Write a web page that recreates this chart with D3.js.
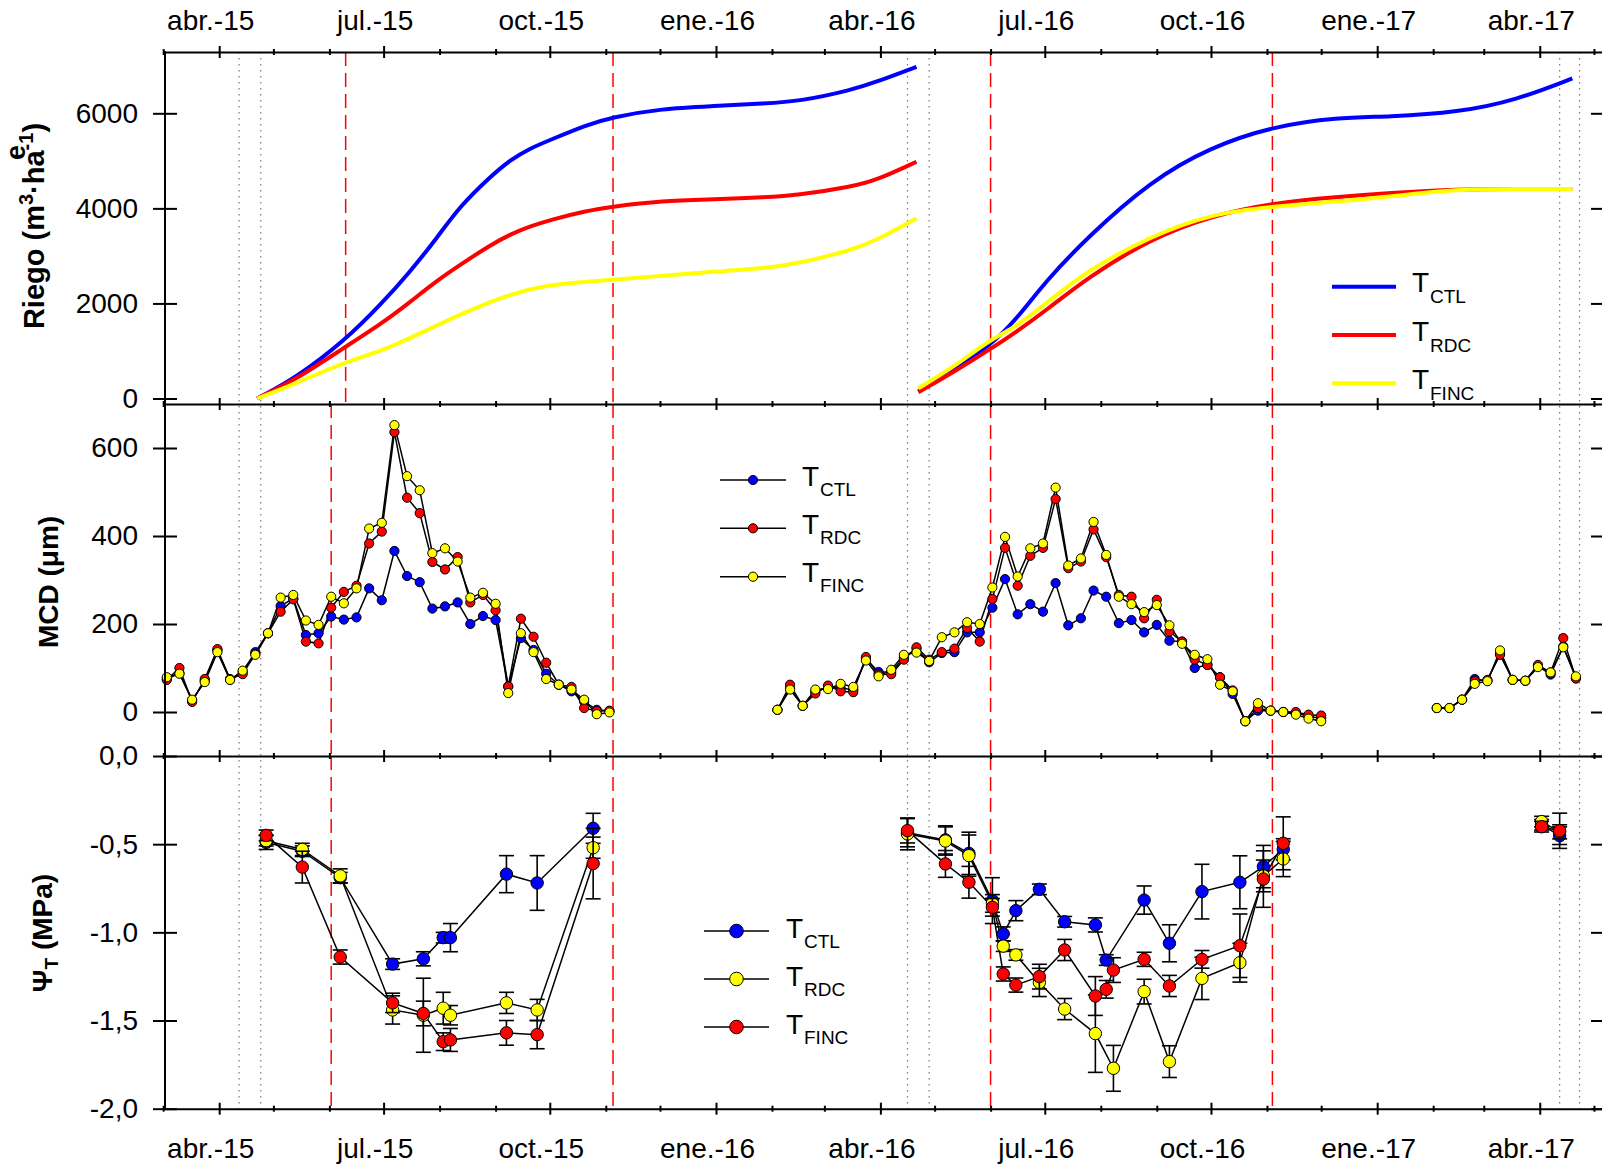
<!DOCTYPE html>
<html>
<head>
<meta charset="utf-8">
<script src="https://cdn.jsdelivr.net/npm/d3@7"></script>
<style>
  body { margin: 0; background: #fff; }
  svg text { font-family: "Liberation Sans", Arial, sans-serif; }
</style>
</head>
<body>
<div id="chart"></div>
<script>
// ---- axis ticks ----
const majorTickDates = ["2015-04-01", "2015-07-01", "2015-10-01", "2016-01-01", "2016-04-01",
    "2016-07-01", "2016-10-01", "2017-01-01", "2017-04-01"];
const majorTickLabels = ["abr.-15", "jul.-15", "oct.-15", "ene.-16", "abr.-16",
    "jul.-16", "oct.-16", "ene.-17", "abr.-17"];
const riegoTicks = [0, 2000, 4000, 6000];
const mcdTicks = [0, 200, 400, 600];
const psiTicks = [0, -0.5, -1, -1.5, -2];
const legendLabels = ["CTL", "RDC", "FINC"];

// ---- reference lines ----
const dottedDates = ["2015-04-12", "2015-04-24", "2016-04-16", "2016-04-28", "2017-04-12", "2017-04-23"];
const redDatesRiego = ["2015-06-10", "2015-11-05", "2016-06-01", "2016-11-04"];
const redDatesOther = ["2015-06-02", "2015-11-05", "2016-06-01", "2016-11-04"];

// ---- Riego (m3/ha), cumulative ----
const riegoDates15 = ["2015-04-22", "2015-05-13", "2015-06-10", "2015-06-30", "2015-07-15", "2015-07-31",
    "2015-08-12", "2015-08-29", "2015-09-09", "2015-09-20", "2015-10-01", "2015-10-21", "2015-11-04",
    "2015-12-02", "2015-12-31", "2016-01-28", "2016-02-16", "2016-03-16", "2016-03-30", "2016-04-21"];
const riegoCtl15 = [0, 420, 1230, 2000, 2636, 3400, 4033, 4665, 5016, 5262, 5436, 5752, 5913, 6100,
    6150, 6207, 6250, 6488, 6662, 6978];
const riegoRdc15 = [0, 389, 1090, 1580, 2010, 2492, 2800, 3228, 3450, 3620, 3754, 3945, 4033, 4160,
    4189, 4230, 4280, 4454, 4595, 4980];
const riegoFinc15 = [0, 310, 774, 1000, 1260, 1546, 1760, 2036, 2180, 2300, 2387, 2460, 2492, 2580,
    2667, 2738, 2843, 3120, 3330, 3790];

const riegoDates16 = ["2016-04-22", "2016-05-12", "2016-06-01", "2016-06-15", "2016-07-02", "2016-07-25",
    "2016-08-28", "2016-10-01", "2016-11-05", "2016-12-10", "2017-01-07", "2017-02-15", "2017-03-19",
    "2017-04-19"];
const riegoCtl16 = [150, 599, 1125, 1651, 2492, 3403, 4559, 5295, 5730, 5913, 5926, 6020, 6277, 6733];
const riegoRdc16 = [130, 564, 1045, 1395, 1861, 2550, 3350, 3845, 4118, 4240, 4320, 4406, 4406, 4406];
const riegoFinc16 = [214, 669, 1250, 1500, 2013, 2700, 3403, 3888, 4040, 4145, 4244, 4406, 4406, 4406];

// ---- MCD (um), weekly ----
const mcdDates15 = ["2015-03-03", "2015-03-10", "2015-03-17", "2015-03-24", "2015-03-31", "2015-04-07",
    "2015-04-14", "2015-04-21", "2015-04-28", "2015-05-05", "2015-05-12", "2015-05-19", "2015-05-26",
    "2015-06-02", "2015-06-09", "2015-06-16", "2015-06-23", "2015-06-30", "2015-07-07", "2015-07-14",
    "2015-07-21", "2015-07-28", "2015-08-04", "2015-08-11", "2015-08-18", "2015-08-25", "2015-09-01",
    "2015-09-08", "2015-09-15", "2015-09-22", "2015-09-29", "2015-10-06", "2015-10-13", "2015-10-20",
    "2015-10-27", "2015-11-03"];
const mcdCtl15 = [75, 88, 26, 71, 140, 73, 92, 136, 179, 241, 258, 175, 179, 217, 210, 215, 281, 254,
    366, 309, 295, 235, 240, 249, 200, 218, 209, 58, 168, 141, 87, 62, 47, 24, 5, 2];
const mcdRdc15 = [73, 100, 23, 75, 143, 75, 86, 132, 179, 228, 256, 160, 156, 237, 273, 287, 383, 410,
    636, 487, 452, 341, 324, 352, 249, 266, 231, 58, 212, 171, 112, 62, 57, 9, 2, 3];
const mcdFinc15 = [79, 87, 28, 68, 136, 73, 94, 130, 179, 260, 266, 208, 198, 262, 247, 281, 417, 430,
    652, 536, 504, 361, 372, 342, 260, 271, 246, 43, 179, 136, 75, 62, 51, 28, -5, -1];

const mcdDates16 = ["2016-02-04", "2016-02-11", "2016-02-18", "2016-02-25", "2016-03-03", "2016-03-10",
    "2016-03-17", "2016-03-24", "2016-03-31", "2016-04-07", "2016-04-14", "2016-04-21", "2016-04-28",
    "2016-05-05", "2016-05-12", "2016-05-19", "2016-05-26", "2016-06-02", "2016-06-09", "2016-06-16",
    "2016-06-23", "2016-06-30", "2016-07-07", "2016-07-14", "2016-07-21", "2016-07-28", "2016-08-04",
    "2016-08-11", "2016-08-18", "2016-08-25", "2016-09-01", "2016-09-08", "2016-09-15", "2016-09-22",
    "2016-09-29", "2016-10-06", "2016-10-13", "2016-10-20", "2016-10-27", "2016-11-03", "2016-11-10",
    "2016-11-17", "2016-11-24", "2016-12-01"];
const mcdCtl16 = [5, 54, 14, 47, 57, 54, 51, 121, 91, 91, 124, 143, 113, 134, 136, 181, 181, 237, 302,
    222, 245, 228, 293, 197, 213, 276, 262, 202, 209, 181, 198, 162, 160, 100, 107, 79, 41, -21, 3, 3,
    0, -2, -10, -14];
const mcdRdc16 = [5, 62, 14, 42, 60, 47, 45, 125, 85, 86, 119, 147, 119, 136, 144, 191, 160, 257, 373,
    287, 355, 373, 484, 327, 342, 415, 352, 266, 262, 213, 255, 183, 160, 119, 107, 79, 49, -21, 9, 3,
    0, 0, -6, -8];
const mcdFinc16 = [5, 51, 14, 51, 52, 64, 57, 117, 81, 96, 130, 135, 116, 170, 181, 204, 200, 283, 398,
    308, 372, 383, 510, 333, 349, 432, 357, 262, 245, 227, 243, 197, 155, 130, 120, 62, 47, -21, 20, 3,
    0, -6, -15, -21];

const mcdDates17 = ["2017-02-03", "2017-02-10", "2017-02-17", "2017-02-24", "2017-03-03", "2017-03-10",
    "2017-03-17", "2017-03-24", "2017-03-31", "2017-04-07", "2017-04-14", "2017-04-21"];
const mcdCtl17 = [9, 9, 28, 75, 71, 134, 73, 71, 105, 85, 149, 77];
const mcdRdc17 = [9, 9, 28, 70, 73, 130, 73, 71, 107, 90, 168, 76];
const mcdFinc17 = [9, 9, 28, 64, 70, 140, 73, 71, 102, 90, 147, 81];

// ---- Psi T (MPa) with error ----
const psiDates15 = ["2015-04-27", "2015-05-17", "2015-06-07", "2015-07-06", "2015-07-23", "2015-08-03",
    "2015-08-07", "2015-09-07", "2015-09-24", "2015-10-25"];
const psiCtl15 = [-0.49, -0.54, -0.69, -1.18, -1.15, -1.03, -1.03, -0.67, -0.72, -0.41];
const psiCtl15Err = [0.04, 0.03, 0.03, 0.03, 0.04, 0.03, 0.08, 0.105, 0.155, 0.085];
const psiRdc15 = [-0.48, -0.53, -0.68, -1.44, -1.47, -1.43, -1.47, -1.40, -1.44, -0.52];
const psiRdc15Err = [0.03, 0.035, 0.04, 0.08, 0.21, 0.09, 0.055, 0.06, 0.06, 0.06];
const psiFinc15 = [-0.45, -0.63, -1.14, -1.40, -1.46, -1.62, -1.61, -1.57, -1.58, -0.61];
const psiFinc15Err = [0.03, 0.09, 0.04, 0.055, 0.07, 0.05, 0.065, 0.07, 0.08, 0.2];

const psiDates16 = ["2016-04-16", "2016-05-07", "2016-05-20", "2016-06-02", "2016-06-08", "2016-06-15",
    "2016-06-28", "2016-07-12", "2016-07-29", "2016-08-04", "2016-08-08", "2016-08-25", "2016-09-08",
    "2016-09-26", "2016-10-17", "2016-10-30", "2016-11-10"];
const psiCtl16 = [-0.435, -0.476, -0.552, -0.820, -1.009, -0.877, -0.756, -0.940, -0.958, -1.157, null,
    -0.817, -1.062, -0.769, -0.716, -0.627, -0.529];
const psiCtl16Err = [0.08, 0.08, 0.12, 0.13, 0.04, 0.057, 0.03, 0.03, 0.04, 0.03, null,
    0.08, 0.105, 0.155, 0.15, 0.12, 0.06];
const psiRdc16 = [-0.442, -0.482, -0.565, -0.836, -1.078, -1.128, -1.284, -1.435, -1.574, null, -1.771,
    -1.336, -1.733, -1.261, -1.172, -0.680, -0.584];
const psiRdc16Err = [0.09, 0.08, 0.117, 0.05, 0.03, 0.03, 0.08, 0.06, 0.22, null, 0.13,
    0.07, 0.09, 0.12, 0.11, 0.09, 0.1];
const psiFinc16 = [-0.423, -0.612, -0.716, -0.858, -1.236, -1.299, -1.251, -1.100, -1.361, -1.323, -1.214,
    -1.153, -1.304, -1.153, -1.076, -0.698, -0.495];
const psiFinc16Err = [0.07, 0.076, 0.09, 0.05, 0.04, 0.04, 0.07, 0.06, 0.11, 0.05, 0.07,
    0.04, 0.06, 0.05, 0.18, 0.16, 0.15];

const psiDates17 = ["2017-04-02", "2017-04-12"];
const psiCtl17 = [-0.39, -0.452];
const psiCtl17Err = [0.03, 0.05];
const psiRdc17 = [-0.372, -0.43];
const psiRdc17Err = [0.03, 0.04];
const psiFinc17 = [-0.401, -0.424];
const psiFinc17Err = [0.03, 0.1];

// ---- layout ----
const width = 1602;
const height = 1164;
const xLeft = 165;
const xRight = 1603;
const p1 = { top: 52, bottom: 404 };
const p2 = { top: 404, bottom: 756 };
const p3 = { top: 756, bottom: 1108.7 };
const BLUE = "#0000ff", RED = "#ff0000", YELLOW = "#ffff00";
const font = "'Liberation Sans', Arial, sans-serif";

const parse = d3.utcParse("%Y-%m-%d");

const x = d3.scaleUtc()
    .domain([parse("2015-03-02"), parse("2017-05-06")])
    .range([xLeft, xRight]);
const y1 = d3.scaleLinear().domain([0, 6000]).range([398.5, 113.3]);
const y2 = d3.scaleLinear().domain([-100, 700]).range([p2.bottom, p2.top]);
const y3 = d3.scaleLinear().domain([-2, 0]).range([p3.bottom, p3.top]);

const svg = d3.select("#chart")
    .append("svg")
    .attr("width", width)
    .attr("height", height)
    .attr("viewBox", [0, 0, width, height])
    .style("background", "#fff");

// reference lines
svg.append("g")
    .selectAll("line")
    .data(dottedDates)
    .join("line")
    .attr("x1", (d) => x(parse(d)))
    .attr("x2", (d) => x(parse(d)))
    .attr("y1", p1.top)
    .attr("y2", p3.bottom)
    .attr("stroke", "#777")
    .attr("stroke-width", 1.2)
    .attr("stroke-dasharray", "1.5,4.5");

[[p1, redDatesRiego], [p2, redDatesOther], [p3, redDatesOther]].forEach(([p, dates]) => {
    svg.append("g")
        .selectAll("line")
        .data(dates)
        .join("line")
        .attr("x1", (d) => x(parse(d)))
        .attr("x2", (d) => x(parse(d)))
        .attr("y1", p.top)
        .attr("y2", p.bottom)
        .attr("stroke", RED)
        .attr("stroke-width", 1.5)
        .attr("stroke-dasharray", "14,7");
});

// ---- panel 1: riego ----
const riegoSeasons = [
    { dates: riegoDates15, series: [riegoCtl15, riegoRdc15, riegoFinc15] },
    { dates: riegoDates16, series: [riegoCtl16, riegoRdc16, riegoFinc16] },
];
const riegoColors = [BLUE, RED, YELLOW];
const riegoLine = d3.line()
    .x((d) => x(d.date))
    .y((d) => y1(d.v))
    .curve(d3.curveBasis);

riegoSeasons.forEach((s) => {
    s.series.forEach((vals, k) => {
        const pts = vals.map((v, i) => ({ date: parse(s.dates[i]), v }));
        svg.append("path")
            .datum(pts)
            .attr("fill", "none")
            .attr("stroke", riegoColors[k])
            .attr("stroke-width", 4)
            .attr("d", riegoLine);
    });
});

// ---- panel 2: MCD ----
const mcdSeasons = [
    { dates: mcdDates15, series: [mcdCtl15, mcdRdc15, mcdFinc15] },
    { dates: mcdDates16, series: [mcdCtl16, mcdRdc16, mcdFinc16] },
    { dates: mcdDates17, series: [mcdCtl17, mcdRdc17, mcdFinc17] },
];
const mcdColors = [BLUE, RED, YELLOW];
const mcdLine = d3.line().x((d) => x(d.date)).y((d) => y2(d.v));

mcdSeasons.forEach((s) => {
    s.series.forEach((vals) => {
        const pts = vals.map((v, i) => ({ date: parse(s.dates[i]), v }));
        svg.append("path")
            .datum(pts)
            .attr("fill", "none")
            .attr("stroke", "#000")
            .attr("stroke-width", 1.5)
            .attr("d", mcdLine);
    });
});
mcdSeasons.forEach((s) => {
    s.series.forEach((vals, k) => {
        svg.append("g")
            .selectAll("circle")
            .data(vals)
            .join("circle")
            .attr("cx", (v, i) => x(parse(s.dates[i])))
            .attr("cy", (v) => y2(v))
            .attr("r", 4.6)
            .attr("fill", mcdColors[k])
            .attr("stroke", "#000")
            .attr("stroke-width", 1);
    });
});

// ---- panel 3: psi ----
const psiSeasons = [
    { dates: psiDates15, series: [[psiCtl15, psiCtl15Err], [psiRdc15, psiRdc15Err], [psiFinc15, psiFinc15Err]] },
    { dates: psiDates16, series: [[psiCtl16, psiCtl16Err], [psiRdc16, psiRdc16Err], [psiFinc16, psiFinc16Err]] },
    { dates: psiDates17, series: [[psiCtl17, psiCtl17Err], [psiRdc17, psiRdc17Err], [psiFinc17, psiFinc17Err]] },
];
const psiColors = [BLUE, YELLOW, RED];
const psiLine = d3.line().x((d) => x(d.date)).y((d) => y3(d.v));

const psiPoints = psiSeasons.map((s) =>
    s.series.map(([vals, errs]) =>
        vals.map((v, i) => ({ date: parse(s.dates[i]), v, e: errs[i] })).filter((d) => d.v !== null)
    )
);

psiPoints.forEach((season) => {
    season.forEach((pts) => {
        svg.append("path")
            .datum(pts)
            .attr("fill", "none")
            .attr("stroke", "#000")
            .attr("stroke-width", 1.5)
            .attr("d", psiLine);
    });
});
[0, 1, 2].forEach((k) => {
    psiPoints.forEach((season) => {
        const pts = season[k];
        const eb = svg.append("g").attr("stroke", "#000").attr("stroke-width", 1.6);
        eb.selectAll(".bar").data(pts).join("line").attr("class", "bar")
            .attr("x1", (d) => x(d.date)).attr("x2", (d) => x(d.date))
            .attr("y1", (d) => y3(d.v - d.e)).attr("y2", (d) => y3(d.v + d.e));
        eb.selectAll(".capTop").data(pts).join("line").attr("class", "capTop")
            .attr("x1", (d) => x(d.date) - 7.5).attr("x2", (d) => x(d.date) + 7.5)
            .attr("y1", (d) => y3(d.v + d.e)).attr("y2", (d) => y3(d.v + d.e));
        eb.selectAll(".capBot").data(pts).join("line").attr("class", "capBot")
            .attr("x1", (d) => x(d.date) - 7.5).attr("x2", (d) => x(d.date) + 7.5)
            .attr("y1", (d) => y3(d.v - d.e)).attr("y2", (d) => y3(d.v - d.e));
        svg.append("g")
            .selectAll("circle")
            .data(pts)
            .join("circle")
            .attr("cx", (d) => x(d.date))
            .attr("cy", (d) => y3(d.v))
            .attr("r", 6.2)
            .attr("fill", psiColors[k])
            .attr("stroke", "#000")
            .attr("stroke-width", 1);
    });
});

// ---- axes ----
const majorTicks = majorTickDates.map(parse);
const minorTicks = d3.utcMonth.range(parse("2015-03-01"), parse("2017-06-01"))
    .filter((d) => d.getUTCMonth() % 3 !== 0);

function drawXAxis(yPos, side) {
    const g = svg.append("g").attr("transform", `translate(0,${yPos})`);
    const minor = g.append("g")
        .call(d3.axisBottom(x).tickValues(minorTicks).tickSize(3).tickSizeOuter(0).tickFormat(""));
    minor.selectAll(".tick line").attr("y1", -3);
    minor.select(".domain").remove();
    const axis = side === "top" ? d3.axisTop(x) : d3.axisBottom(x);
    const major = g.append("g")
        .call(axis.tickValues(majorTicks).tickSize(6).tickSizeOuter(0)
            .tickPadding(side === "top" ? 16 : 23)
            .tickFormat((d, i) => (side ? majorTickLabels[i] : "")));
    major.attr("font-size", 28).attr("font-family", font);
    major.selectAll(".tick line").attr("y1", side === "top" ? 6 : -6);
    major.selectAll("text").attr("dx", -9);
    g.selectAll("line, path").attr("stroke-width", 2);
}
drawXAxis(p1.top, "top");
drawXAxis(p2.top, null);
drawXAxis(p3.top, null);
drawXAxis(p3.bottom, "bottom");

function drawYAxis(scale, values, fmt) {
    const g = svg.append("g")
        .attr("transform", `translate(${xLeft},0)`)
        .call(d3.axisLeft(scale).tickValues(values).tickSize(12).tickPadding(15).tickFormat(fmt));
    g.select(".domain").remove();
    g.selectAll(".tick line").attr("x1", 12).attr("stroke-width", 2);
    g.attr("font-size", 28).attr("font-family", font);
    const r = svg.append("g")
        .attr("transform", `translate(${xRight},0)`)
        .call(d3.axisLeft(scale).tickValues(values).tickSize(12).tickFormat(""));
    r.select(".domain").remove();
    r.selectAll(".tick line").attr("stroke-width", 2);
}
drawYAxis(y1, riegoTicks, d3.format("d"));
drawYAxis(y2, mcdTicks, d3.format("d"));
drawYAxis(y3, psiTicks, (d) => (d < 0 ? "-" : "") + Math.abs(d).toFixed(1).replace(".", ","));

svg.append("line")
    .attr("x1", xLeft).attr("x2", xLeft)
    .attr("y1", p1.top - 1).attr("y2", p3.bottom + 1)
    .attr("stroke", "#000").attr("stroke-width", 2);

// ---- axis titles ----
const riegoTitle = svg.append("text")
    .attr("transform", "translate(44,226) rotate(-90)")
    .attr("text-anchor", "middle")
    .attr("font-weight", "bold")
    .attr("font-size", 29);
riegoTitle.append("tspan").text("Riego (m");
riegoTitle.append("tspan").attr("dy", -11).attr("font-size", 20).text("3");
riegoTitle.append("tspan").attr("dy", 11).text("·ha");
riegoTitle.append("tspan").attr("dy", -11).attr("font-size", 20).text("-1");
riegoTitle.append("tspan").attr("dy", 11).text(")");

svg.append("text")
    .attr("transform", "translate(25,160) rotate(-90)")
    .attr("font-weight", "bold")
    .attr("font-size", 27)
    .text("e");

svg.append("text")
    .attr("transform", "translate(58,582) rotate(-90)")
    .attr("text-anchor", "middle")
    .attr("font-weight", "bold")
    .attr("font-size", 28)
    .text("MCD (μm)");

const psiTitle = svg.append("text")
    .attr("transform", "translate(52,933) rotate(-90)")
    .attr("text-anchor", "middle")
    .attr("font-weight", "bold")
    .attr("font-size", 28);
psiTitle.append("tspan").text("Ψ");
psiTitle.append("tspan").attr("dy", 6).attr("font-size", 19).text("T");
psiTitle.append("tspan").attr("dy", -6).text(" (MPa)");

// ---- legends ----
function drawLegend(cfg) {
    cfg.ys.forEach((yy, i) => {
        svg.append("line")
            .attr("x1", cfg.x1).attr("x2", cfg.x2).attr("y1", yy).attr("y2", yy)
            .attr("stroke", cfg.marker ? "#000" : cfg.colors[i])
            .attr("stroke-width", cfg.marker ? 1.6 : 4);
        if (cfg.marker) {
            svg.append("circle")
                .attr("cx", (cfg.x1 + cfg.x2) / 2).attr("cy", yy).attr("r", cfg.marker)
                .attr("fill", cfg.colors[i]).attr("stroke", "#000").attr("stroke-width", 1);
        }
        svg.append("text")
            .attr("x", cfg.tx).attr("y", yy + cfg.tdy)
            .attr("font-size", 28)
            .text("T");
        svg.append("text")
            .attr("x", cfg.tx + 18).attr("y", yy + cfg.sdy)
            .attr("font-size", 19)
            .text(legendLabels[i]);
    });
}
drawLegend({ x1: 1332, x2: 1396, ys: [286.7, 335, 383.3], colors: riegoColors, tx: 1412, tdy: 5.5, sdy: 16.5 });
drawLegend({ x1: 720, x2: 786, ys: [480, 528.3, 576.7], colors: mcdColors, marker: 4.6, tx: 802, tdy: 5.5, sdy: 15.5 });
drawLegend({ x1: 704, x2: 769, ys: [931, 979, 1027], colors: psiColors, marker: 6.8, tx: 786, tdy: 7, sdy: 17 });
</script>
</body>
</html>
